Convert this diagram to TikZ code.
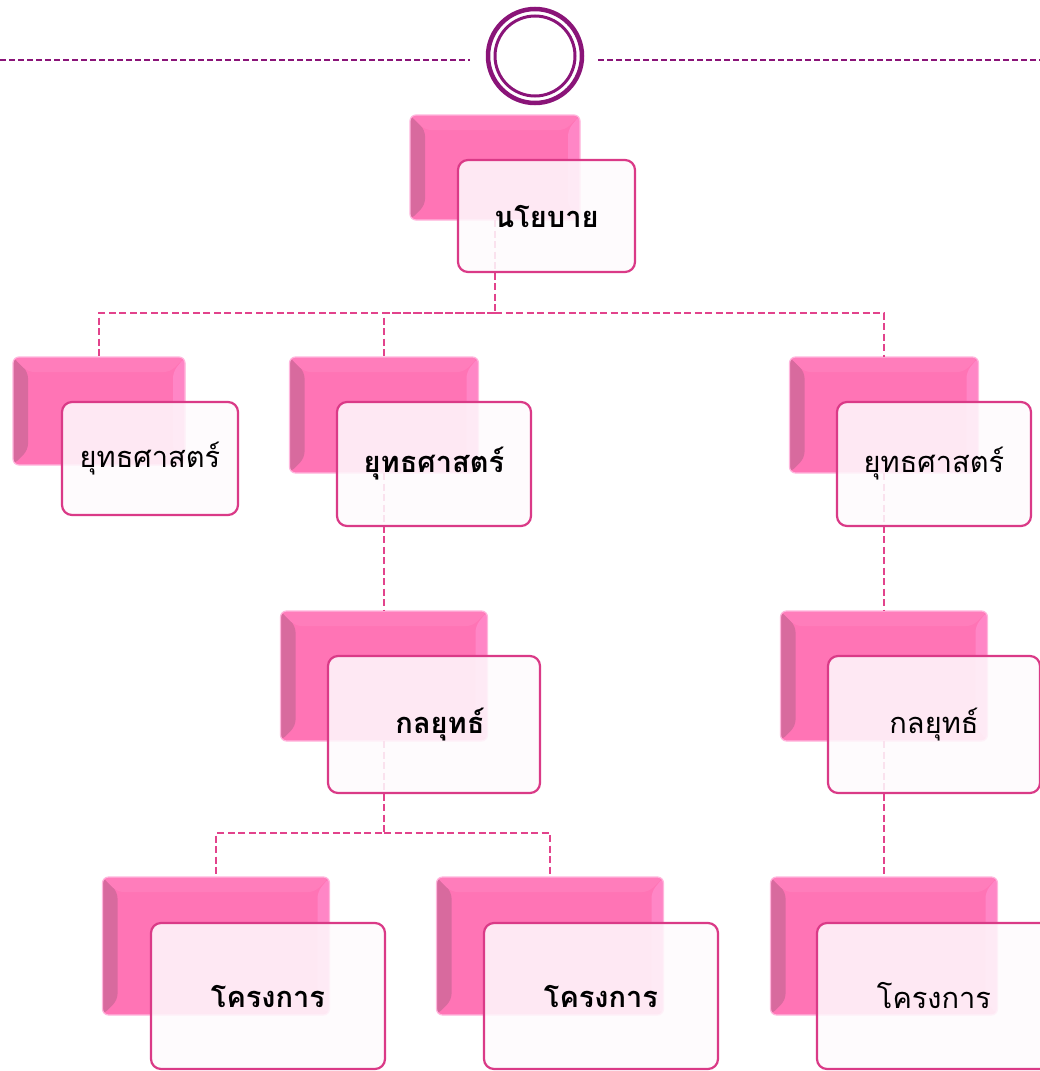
\documentclass[tikz,border=0pt]{standalone}
\usepackage{fontspec}
\newfontfamily\thai[Script=Thai]{Loma}
\definecolor{pinkmain}{HTML}{FF74B5}
\definecolor{pinkdark}{HTML}{D86A9E}
\definecolor{pinklight}{HTML}{FF86C6}
\definecolor{pinktop}{HTML}{FF7DBB}
\definecolor{pinkedge}{HTML}{DA3A87}
\definecolor{frontfill}{HTML}{FEFAFD}
\definecolor{conn}{HTML}{E2438C}
\definecolor{purp}{HTML}{8A1478}
\tikzset{
  backbox/.style={rectangle, rounded corners=6, inner sep=0pt, outer sep=0pt,
    fill=pinkmain, draw=pinklight!60!white, line width=1.2,
    path picture={
      \fill[pinkdark] (path picture bounding box.north west) -- ([shift={(15,15)}]path picture bounding box.north west)
        -- ([shift={(15,-15)}]path picture bounding box.south west) -- (path picture bounding box.south west) -- cycle;
      \fill[pinktop] (path picture bounding box.north west) -- (path picture bounding box.north east)
        -- ([shift={(-15,15)}]path picture bounding box.north east) -- ([shift={(15,15)}]path picture bounding box.north west) -- cycle;
      \fill[pinklight] (path picture bounding box.north east) -- ([shift={(-12,15)}]path picture bounding box.north east)
        -- ([shift={(-12,-15)}]path picture bounding box.south east) -- (path picture bounding box.south east) -- cycle;
    }},
  frontbox/.style={rectangle, rounded corners=10, inner sep=0pt, outer sep=0pt,
    draw=pinkedge, line width=2.2, fill=frontfill, fill opacity=0.87, text opacity=1, draw opacity=1,
    font=\thai\fontsize{29}{32}\selectfont, text=black},
  boldtext/.style={font=\thai\bfseries\fontsize{29}{32}\selectfont},
  connector/.style={draw=conn, line width=2, dash pattern=on 7pt off 3.5pt},
  topline/.style={draw=purp, line width=2, dash pattern=on 6pt off 3pt},
}
\begin{document}
\begin{tikzpicture}[x=1pt,y=-1pt]
\useasboundingbox (0,0) rectangle (1040,1071);
\clip (0,0) rectangle (1040,1071);

% top ornament
\node[circle, draw=purp, line width=4.5, minimum size=94, inner sep=0pt] (ring) at (535,56) {};
\node[circle, draw=purp, line width=3, minimum size=80, inner sep=0pt] (ringin) at (535,56) {};
\coordinate (tl0) at (0,60);
\coordinate (tl1) at (470,60);
\coordinate (tr0) at (598,60);
\coordinate (tr1) at (1040,60);
\draw[topline] (tl0) -- (tl1);
\draw[topline] (tr0) -- (tr1);

% back boxes
\node[backbox, minimum width=170, minimum height=105] (p0b) at (495,167.5) {};
\node[backbox, minimum width=172, minimum height=108] (ab) at (99,411) {};
\node[backbox, minimum width=189, minimum height=116] (bb) at (384,415) {};
\node[backbox, minimum width=189, minimum height=116] (cb) at (884,415) {};
\node[backbox, minimum width=207, minimum height=130] (db) at (384,676) {};
\node[backbox, minimum width=207, minimum height=130] (eb) at (884,676) {};
\node[backbox, minimum width=227, minimum height=138] (fb) at (216,946) {};
\node[backbox, minimum width=227, minimum height=138] (gb) at (550,946) {};
\node[backbox, minimum width=227, minimum height=138] (hb) at (884,946) {};

% connectors
\coordinate (j0) at (495,313);
\coordinate (j1) at (384,833);
\draw[connector] (p0b.south) -- (j0) -| (ab.north);
\draw[connector] (j0) -| (bb.north);
\draw[connector] (j0) -| (cb.north);
\draw[connector] (bb.south) -- (db.north);
\draw[connector] (cb.south) -- (eb.north);
\draw[connector] (db.south) -- (j1) -| (fb.north);
\draw[connector] (j1) -| (gb.north);
\draw[connector] (eb.south) -- (hb.north);

% front boxes
\node[frontbox, boldtext, minimum width=177, minimum height=112] (p0) at (546.5,216) {นโยบาย};
\node[frontbox, minimum width=176, minimum height=113] (a) at (150,458.5) {ยุทธศาสตร์};
\node[frontbox, boldtext, minimum width=194, minimum height=124] (b) at (434,464) {ยุทธศาสตร์};
\node[frontbox, minimum width=194, minimum height=124] (c) at (934,464) {ยุทธศาสตร์};
\node[frontbox, boldtext, minimum width=212, minimum height=137] (d) at (434,724.5) {\hspace*{12pt}กลยุทธ์};
\node[frontbox, minimum width=212, minimum height=137] (e) at (934,724.5) {กลยุทธ์};
\node[frontbox, boldtext, minimum width=234, minimum height=146] (f) at (268,996) {โครงการ};
\node[frontbox, boldtext, minimum width=234, minimum height=146] (g) at (601,996) {โครงการ};
\node[frontbox, minimum width=234, minimum height=146] (h) at (934,996) {โครงการ};
\end{tikzpicture}
\end{document}
